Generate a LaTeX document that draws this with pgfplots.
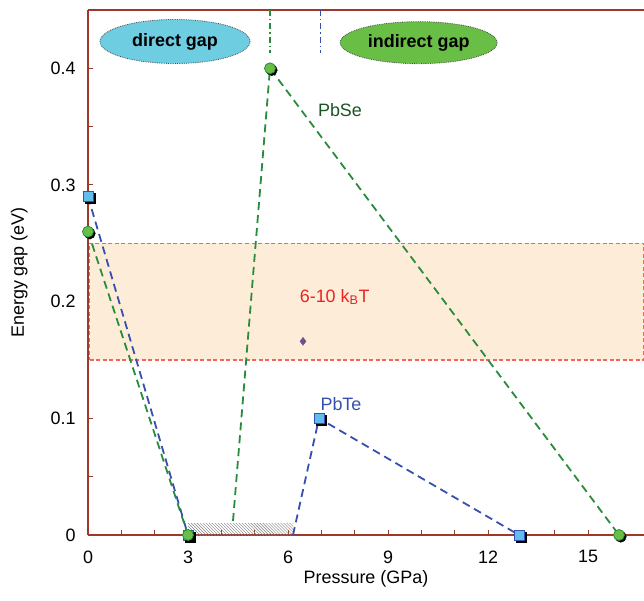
\documentclass[border=0pt]{standalone}
\usepackage{pgfplots}
\pgfplotsset{compat=1.18}
\usepackage{fontspec}
\setmainfont{Liberation Sans}
\usetikzlibrary{patterns,shapes.geometric}
\definecolor{axred}{RGB}{160,55,45}
\definecolor{teblue}{RGB}{55,80,175}
\definecolor{segreen}{RGB}{40,140,60}
\definecolor{sqfill}{RGB}{95,190,235}
\definecolor{cirfill}{RGB}{105,190,70}
\definecolor{bandfill}{RGB}{253,236,216}
\definecolor{bandline}{RGB}{245,100,90}
\definecolor{cyanell}{RGB}{110,205,225}
\definecolor{greenell}{RGB}{105,190,70}
\definecolor{diam}{RGB}{110,80,140}
\begin{document}
\begin{tikzpicture}
\begin{axis}[name=ax,
  scale only axis, width=556bp, height=525bp,
  xmin=0, xmax=16.68, ymin=0, ymax=0.45,
  axis x line*=bottom, axis y line*=left,
  axis line style={axred, line width=1.3bp},
  tick style={axred, line width=1bp},
  tick align=inside,
  major tick length=5bp, minor tick length=5bp,
  xtick={0,3,6,9,12,15}, minor x tick num=2,
  ytick={0,0.1,0.2,0.3,0.4}, minor y tick num=1,
  yticklabel style={/pgf/number format/fixed, /pgf/number format/precision=1, xshift=-9bp},
  xticklabel style={yshift=-12bp},
  /pgf/number format/assume math mode=true,
  ticklabel style={font=\fontsize{18}{20}\selectfont, black},
  label style={font=\fontsize{18}{20}\selectfont},
  xlabel={Pressure (GPa)}, ylabel={Energy gap (eV)},
  ylabel style={yshift=16bp},
  clip=false,
]
% band
\addplot[fill=bandfill, draw=bandline, line width=1.3bp, dash pattern=on 4bp off 2.5bp] coordinates {(0.05,0.15) (16.68,0.15) (16.68,0.25) (0.05,0.25)} -- cycle;
% top frame line
\draw[axred, line width=1.3bp] (rel axis cs:0,1) -- (rel axis cs:1,1);
% hatched region
\addplot[draw=none, pattern=north west lines, pattern color=gray] coordinates {(3,0) (6.15,0) (6.15,0.0095) (3,0.0095)} -- cycle;
% vertical dash-dot lines
\addplot[segreen, line width=1.2bp, dash pattern=on 6bp off 3bp on 1.5bp off 3bp] coordinates {(5.46,0.45) (5.46,0.413)};
\addplot[teblue, line width=1.2bp, dash pattern=on 6bp off 3bp on 1.5bp off 3bp] coordinates {(6.98,0.45) (6.98,0.413)};
% PbTe lines
\addplot[teblue, line width=1.8bp, dash pattern=on 8bp off 5bp] coordinates {(0,0.29) (3,0)};
\addplot[teblue, line width=1.8bp, dash pattern=on 8bp off 5bp] coordinates {(6.15,0) (6.93,0.1) (12.93,0)};
% PbSe lines
\addplot[segreen, line width=1.8bp, dash pattern=on 8bp off 5bp] coordinates {(0,0.26) (3,0)};
\addplot[segreen, line width=1.8bp, dash pattern=on 8bp off 5bp] coordinates {(4.35,0.012) (5.46,0.4) (15.93,0)};
% PbTe markers
\addplot[only marks, mark=square*, mark size=5bp, mark options={fill=black, draw=black, xshift=1.8bp, yshift=-1.8bp}] coordinates {(0,0.29) (3,0) (6.93,0.1) (12.93,0)};
\addplot[only marks, mark=square*, mark size=5bp, mark options={fill=sqfill, draw=teblue, line width=0.8bp}] coordinates {(0,0.29) (3,0) (6.93,0.1) (12.93,0)};
% PbSe markers
\addplot[only marks, mark=*, mark size=5.5bp, mark options={fill=black, draw=black, xshift=1.8bp, yshift=-1.8bp}] coordinates {(0,0.26) (3,0) (5.46,0.4) (15.93,0)};
\addplot[only marks, mark=*, mark size=5.5bp, mark options={fill=cirfill, draw=segreen, line width=0.8bp}] coordinates {(0,0.26) (3,0) (5.46,0.4) (15.93,0)};
% diamond
\addplot[only marks, mark=diamond*, mark size=4bp, mark options={fill=diam, draw=diam}] coordinates {(6.45,0.166)};
% labels
\node[font=\fontsize{18}{20}\selectfont, text=segreen!60!black] at (axis cs:7.56,0.364) {PbSe};
\node[font=\fontsize{18}{20}\selectfont, text=teblue] at (axis cs:7.59,0.112) {PbTe};
\node[font=\fontsize{18}{20}\selectfont, text={rgb,255:red,235;green,35;blue,35}] at (axis cs:7.4,0.204) {6-10 k$_{\mathrm{B}}$T};
\node[ellipse, fill=cyanell, draw=black!70, densely dotted, line width=0.8bp, minimum width=150bp, minimum height=44bp, inner sep=0pt, font=\bfseries\fontsize{18}{20}\selectfont] at (axis cs:2.61,0.423) {direct gap};
\node[ellipse, fill=greenell, draw=black!70, densely dotted, line width=0.8bp, minimum width=157bp, minimum height=42bp, inner sep=0pt, font=\bfseries\fontsize{18}{20}\selectfont] at (axis cs:9.92,0.422) {indirect gap};
\end{axis}
\pgfresetboundingbox
\path ([xshift=-88bp,yshift=-66bp]ax.south west) rectangle ([yshift=10bp]ax.north east);
\end{tikzpicture}
\end{document}
